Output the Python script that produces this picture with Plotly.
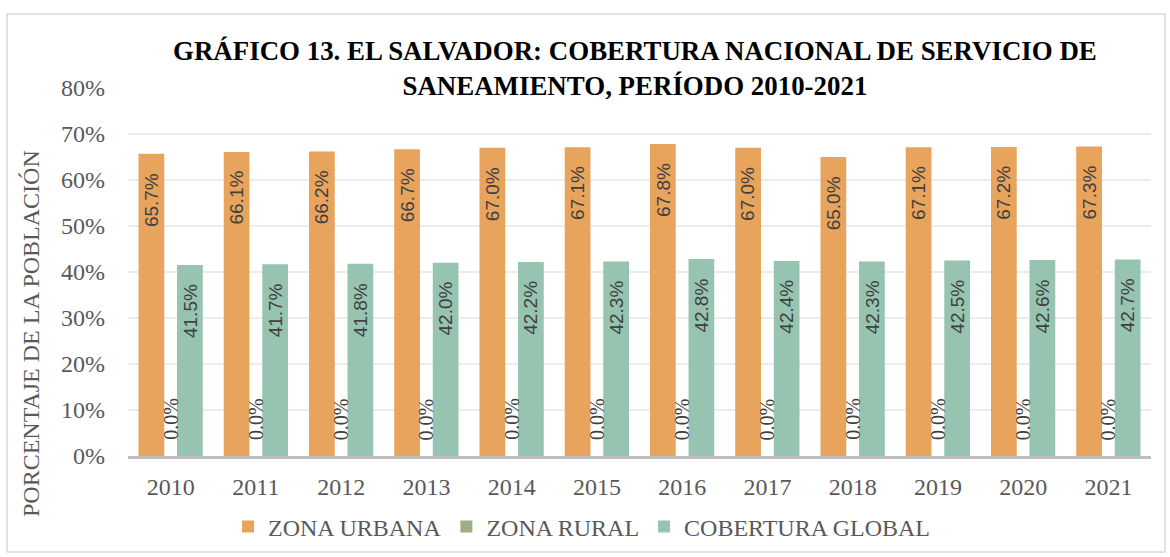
import plotly.graph_objects as go

years = ["2010", "2011", "2012", "2013", "2014", "2015", "2016", "2017", "2018", "2019", "2020", "2021"]
urbana = [65.7, 66.1, 66.2, 66.7, 67.0, 67.1, 67.8, 67.0, 65.0, 67.1, 67.2, 67.3]
rural = [0.0] * 12
glob = [41.5, 41.7, 41.8, 42.0, 42.2, 42.3, 42.8, 42.4, 42.3, 42.5, 42.6, 42.7]
series_names = ["ZONA URBANA", "ZONA RURAL", "COBERTURA GLOBAL"]
colors = ["#E8A45C", "#9DAE87", "#96C4B0"]
grid_vals = [0.1, 0.2, 0.3, 0.4, 0.5, 0.6, 0.7]

SERIF = "Liberation Serif"
SANS = "Liberation Sans"
GRAY = "#595959"
LABEL = "#404040"

W = 0.302
offsets = [-0.377, -0.151, 0.075]
data = [urbana, rural, glob]

fig = go.Figure()
for name, vals, col, off in zip(series_names, data, colors, offsets):
    fig.add_trace(go.Bar(
        x=years, y=[v / 100 for v in vals], name=name,
        marker=dict(color=col, line=dict(width=0)),
        width=W, offset=off, hoverinfo="skip",
    ))

annotations = []
shifts = [-19.3, 0, 19.3]
for si, vals in enumerate(data):
    for i, v in enumerate(vals):
        if si == 1:
            annotations.append(dict(
                x=i, y=v / 100, xref="x", yref="y", text=f"{v:.1f}%",
                showarrow=False, textangle=-90, xanchor="center", yanchor="bottom",
                xshift=shifts[si], yshift=14,
                font=dict(family=SERIF, size=20, color=LABEL)))
        else:
            annotations.append(dict(
                x=i, y=v / 100, xref="x", yref="y", text=f"{v:.1f}%",
                showarrow=False, textangle=-90, xanchor="center", yanchor="top",
                xshift=shifts[si], yshift=-17,
                font=dict(family=SANS, size=19, color=LABEL)))

annotations.append(dict(
    x=0.4956, y=1.053, xref="paper", yref="paper",
    text="<b>GRÁFICO 13. EL SALVADOR: COBERTURA NACIONAL DE SERVICIO DE</b><br><b>SANEAMIENTO, PERÍODO 2010-2021</b>",
    showarrow=False, xanchor="center", yanchor="middle",
    font=dict(family=SERIF, size=26.9, color="#000000")))
annotations.append(dict(
    x=-0.0948, y=0.3315, xref="paper", yref="paper",
    text="PORCENTAJE DE LA POBLACIÓN", showarrow=False, textangle=-90,
    xanchor="center", yanchor="middle",
    font=dict(family=SERIF, size=24, color=GRAY)))

shapes = [dict(type="line", xref="paper", yref="y", x0=0, x1=1, y0=g, y1=g,
               line=dict(color="#E6E6E6", width=1.5), layer="below") for g in grid_vals]
shapes.append(dict(type="rect", xref="paper", yref="paper",
                   x0=-0.1183, x1=1.0137, y0=-0.2609, y1=1.2011,
                   line=dict(color="#D9D9D9", width=1.5)))

fig.update_layout(
    width=1170, height=557,
    margin=dict(l=128, r=19, t=88, b=101, autoexpand=False),
    paper_bgcolor="white", plot_bgcolor="white",
    barmode="overlay",
    showlegend=True,
    legend=dict(orientation="h", x=0.0978, y=-0.193, xanchor="left", yanchor="middle",
                font=dict(family=SERIF, size=24, color=GRAY), itemclick=False),
    annotations=annotations,
    shapes=shapes,
    font=dict(family=SERIF, color=GRAY),
)
fig.update_xaxes(type="category", range=[-0.5, len(years) - 0.5],
                 showline=True, linecolor="#BFBFBF", linewidth=2.5,
                 showgrid=False, ticks="", ticklabelstandoff=7,
                 tickfont=dict(family=SERIF, size=24, color=GRAY))
fig.update_yaxes(range=[0, 0.8], dtick=0.1, tickformat=".0%", showgrid=False,
                 zeroline=False, showline=False, ticks="", ticklabelstandoff=22,
                 tickfont=dict(family=SERIF, size=24, color=GRAY))

fig.write_html("out.html", config={"displayModeBar": False},
               post_script="document.body.style.margin='0';")
